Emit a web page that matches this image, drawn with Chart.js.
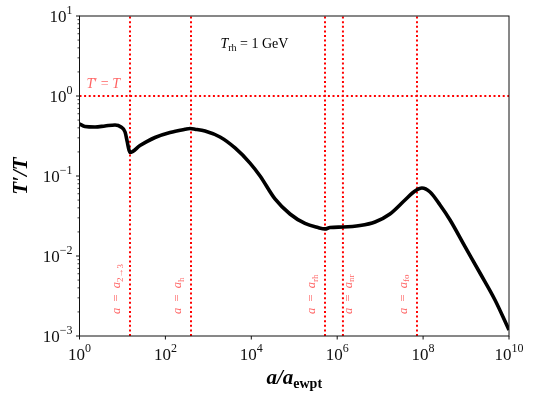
<!DOCTYPE html>
<html>
<head>
<meta charset="utf-8">
<script src="https://cdn.jsdelivr.net/npm/chart.js@4/dist/chart.umd.min.js"></script>
<style>
  html, body { margin: 0; padding: 0; background: #fff; }
  canvas { display: block; }
</style>
</head>
<body>
<canvas id="chart" width="535" height="398"></canvas>
<script>
// a / a_ewpt  and  T'/T
const scaleFactor = [1, 1.34, 2.3, 3.92, 6.71, 9.25, 11.5, 12.8, 14.2, 15.0, 25.6, 57.3, 128, 286, 374, 489,
  836, 1870, 4180, 9330, 1.6e4, 3.56e4, 7.96e4, 1.78e5, 3.57e5, 5.2e5, 6.8e5, 1.36e6, 3.4e6, 7.6e6,
  1.69e7, 3.79e7, 6.48e7, 9.4e7, 1.45e8, 2.48e8, 4.24e8, 9.46e8, 2.11e9, 4.72e9, 1e10];
const tempRatio = [0.447, 0.416, 0.41, 0.422, 0.434, 0.41, 0.355, 0.274, 0.211, 0.197, 0.24, 0.303, 0.35, 0.383, 0.392, 0.385,
  0.365, 0.307, 0.224, 0.145, 0.1, 0.0516, 0.0335, 0.0255, 0.0227, 0.0218, 0.0227, 0.023, 0.024, 0.0266,
  0.0335, 0.0501, 0.0649, 0.0708, 0.0631, 0.0434, 0.0282, 0.0131, 0.00613, 0.00282, 0.00119];

// vertical markers
const markerPos = [15, 395, 5.2e5, 1.36e6, 7.2e7];
const markerSub = ['2\u21923', 'h', 'rh', 'nr', 'fo'];
const markerSide = [-1, -1, -1, 1, -1];

// axes
const xTicks = [1, 1e2, 1e4, 1e6, 1e8, 1e10];
const xTickExp = ['0', '2', '4', '6', '8', '10'];
const yTicks = [1e-3, 1e-2, 1e-1, 1, 10];
const yTickExp = ['\u22123', '\u22122', '\u22121', '0', '1'];

const FONT = '"Liberation Serif", "DejaVu Serif", serif';
const LABEL_RED = 'rgba(255, 0, 0, 0.62)';

function segFont(s) {
  return (s.style || 'normal') + ' ' + (s.weight || 'normal') + ' ' + s.size + 'px ' + FONT;
}

function drawRich(ctx, segs, x, y, align) {
  let w = 0;
  segs.forEach(s => { ctx.font = segFont(s); w += ctx.measureText(s.t).width; });
  let cx = align === 'center' ? x - w / 2 : align === 'right' ? x - w : x;
  ctx.textAlign = 'left';
  segs.forEach(s => {
    ctx.font = segFont(s);
    ctx.fillText(s.t, cx, y + (s.dy || 0));
    cx += ctx.measureText(s.t).width;
  });
}

const decorations = {
  id: 'decorations',
  afterDatasetsDraw(chart) {
    const {ctx, chartArea: a, scales: {x, y}} = chart;
    ctx.save();
    ctx.textBaseline = 'alphabetic';

    // frame
    ctx.strokeStyle = '#111';
    ctx.lineWidth = 1;
    ctx.strokeRect(a.left, a.top, a.right - a.left, a.bottom - a.top);

    // x ticks + labels
    ctx.fillStyle = '#111';
    xTicks.forEach((v, i) => {
      const px = x.getPixelForValue(v);
      ctx.beginPath();
      ctx.moveTo(px, a.bottom);
      ctx.lineTo(px, a.bottom + 3.5);
      ctx.stroke();
      drawRich(ctx, [
        {t: '10', size: 17},
        {t: xTickExp[i], size: 12, dy: -8}
      ], px, a.bottom + 24, 'center');
    });

    // y ticks (major + minor) + labels
    yTicks.forEach((v, i) => {
      const py = y.getPixelForValue(v);
      ctx.beginPath();
      ctx.moveTo(a.left, py);
      ctx.lineTo(a.left - 3.5, py);
      ctx.stroke();
      drawRich(ctx, [
        {t: '10', size: 17},
        {t: yTickExp[i], size: 12, dy: -8}
      ], a.left - 7, py + 6, 'right');
      if (i < yTicks.length - 1) {
        for (let m = 2; m <= 9; m++) {
          const pm = y.getPixelForValue(v * m);
          ctx.lineWidth = 0.8;
          ctx.beginPath();
          ctx.moveTo(a.left, pm);
          ctx.lineTo(a.left - 2, pm);
          ctx.stroke();
          ctx.lineWidth = 1;
        }
      }
    });

    // axis titles
    ctx.fillStyle = '#000';
    drawRich(ctx, [
      {t: 'a', size: 21, style: 'italic', weight: 'bold'},
      {t: '/', size: 21, style: 'italic', weight: 'bold'},
      {t: 'a', size: 21, style: 'italic', weight: 'bold'},
      {t: 'ewpt', size: 14, weight: 'bold', dy: 4}
    ], (a.left + a.right) / 2, a.bottom + 48, 'center');

    ctx.save();
    ctx.translate(27, (a.top + a.bottom) / 2);
    ctx.rotate(-Math.PI / 2);
    drawRich(ctx, [
      {t: 'T', size: 21, style: 'italic', weight: 'bold'},
      {t: '\u2032', size: 21, style: 'italic', weight: 'bold'},
      {t: '/', size: 21, style: 'italic', weight: 'bold'},
      {t: 'T', size: 21, style: 'italic', weight: 'bold'}
    ], 0, 0, 'center');
    ctx.restore();

    // T_rh annotation
    drawRich(ctx, [
      {t: 'T', size: 14, style: 'italic'},
      {t: 'rh', size: 10, dy: 3},
      {t: ' = 1 GeV', size: 14}
    ], a.left + (a.right - a.left) * 0.328, a.top + (a.bottom - a.top) * 0.1, 'left');

    // T' = T label
    ctx.fillStyle = LABEL_RED;
    drawRich(ctx, [
      {t: 'T', size: 14, style: 'italic'},
      {t: '\u2032 = ', size: 14},
      {t: 'T', size: 14, style: 'italic'}
    ], x.getPixelForValue(1) + 7, y.getPixelForValue(1) - 8, 'left');

    // vertical marker labels
    markerPos.forEach((v, i) => {
      const px = x.getPixelForValue(v) + (markerSide[i] < 0 ? -10 : 9);
      ctx.save();
      ctx.translate(px, a.bottom - 22);
      ctx.rotate(-Math.PI / 2);
      drawRich(ctx, [
        {t: 'a', size: 12.5, style: 'italic'},
        {t: '  =  ', size: 12.5},
        {t: 'a', size: 12.5, style: 'italic'},
        {t: markerSub[i], size: 9, dy: 2.5}
      ], 0, 0, 'left');
      ctx.restore();
    });

    ctx.restore();
  }
};

const dotted = {
  borderColor: 'red',
  borderWidth: 2,
  borderDash: [2, 2.6],
  pointRadius: 0,
  fill: false
};

const datasets = [{
  data: scaleFactor.map((v, i) => ({x: v, y: tempRatio[i]})),
  borderColor: '#000',
  borderWidth: 3.6,
  pointRadius: 0,
  cubicInterpolationMode: 'monotone',
  fill: false
}, Object.assign({
  data: [{x: xTicks[0], y: 1}, {x: xTicks[xTicks.length - 1], y: 1}]
}, dotted)];

markerPos.forEach(v => {
  datasets.push(Object.assign({
    data: [{x: v, y: yTicks[0]}, {x: v, y: yTicks[yTicks.length - 1]}]
  }, dotted));
});

new Chart(document.getElementById('chart').getContext('2d'), {
  type: 'line',
  data: {datasets},
  options: {
    responsive: false,
    animation: false,
    devicePixelRatio: 1,
    layout: {padding: {left: 79.5, right: 26, top: 16, bottom: 62}},
    plugins: {legend: {display: false}, tooltip: {enabled: false}},
    scales: {
      x: {type: 'logarithmic', min: 1, max: 1e10, display: false},
      y: {type: 'logarithmic', min: 1e-3, max: 10, display: false}
    }
  },
  plugins: [decorations]
});
</script>
</body>
</html>
